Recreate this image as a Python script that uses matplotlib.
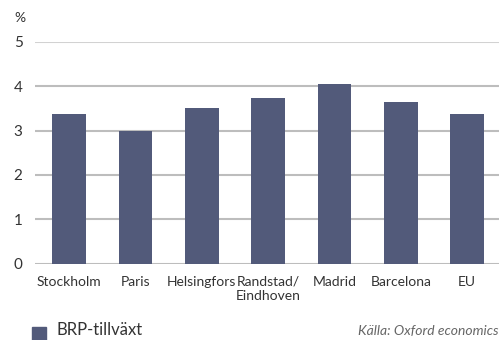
import matplotlib
matplotlib.use("Agg")
import matplotlib.pyplot as plt
import numpy as np

plt.rcParams['font.family'] = ['Lato', 'DejaVu Sans']

# BRP-tillväxt per region, procent
regioner = ['Stockholm', 'Paris', 'Helsingfors', 'Randstad/\nEindhoven',
            'Madrid', 'Barcelona', 'EU']
tillvaxt = [3.37, 3.0, 3.51, 3.74, 4.05, 3.65, 3.37]
y_ticks = [0, 1, 2, 3, 4, 5]

bar_color = '#525a7a'
grid_color = '#bdbdbd'
text_color = '#333333'

fig = plt.figure(figsize=(4.99, 3.40), dpi=100)
ax = fig.add_axes([35 / 499, 0.225, 464 / 499, 0.6515])

x = np.arange(len(regioner))

# stödlinjer bakom staplarna
for t in y_ticks:
    ax.axhline(t, color='#d2d2d2' if t == 5 else grid_color,
               lw=1.5, zorder=1)

ax.bar(x, tillvaxt, width=0.51, color=bar_color, zorder=2)

ax.set_xlim(-0.516, 6.48)
ax.set_ylim(0, 5)
ax.set_yticks(y_ticks)
ax.set_yticklabels([str(t) for t in y_ticks])
ax.set_xticks(x)
ax.set_xticklabels(regioner, linespacing=1.25)
ax.tick_params(axis='both', length=0, labelsize=10, colors=text_color)
ax.tick_params(axis='y', pad=9, labelsize=11)
ax.tick_params(axis='x', pad=9)
for s in ax.spines.values():
    s.set_visible(False)

fig.text(14 / 499, 1 - 18 / 340, '%', fontsize=10, color=text_color,
         va='center', ha='left')

# förklaring och källa längst ned
fig.patches.append(plt.Rectangle((32 / 499, 0), 14 / 499, 13.5 / 340,
                                 transform=fig.transFigure, color=bar_color))
fig.text(56 / 499, 5 / 340, 'BRP-tillväxt', fontsize=12, color=text_color,
         ha='left', va='baseline')
fig.text(0.998, 5 / 340, 'Källa: Oxford economics', fontsize=10,
         style='italic', color='#666666', ha='right', va='baseline')

fig.savefig('out.png', dpi=100)
